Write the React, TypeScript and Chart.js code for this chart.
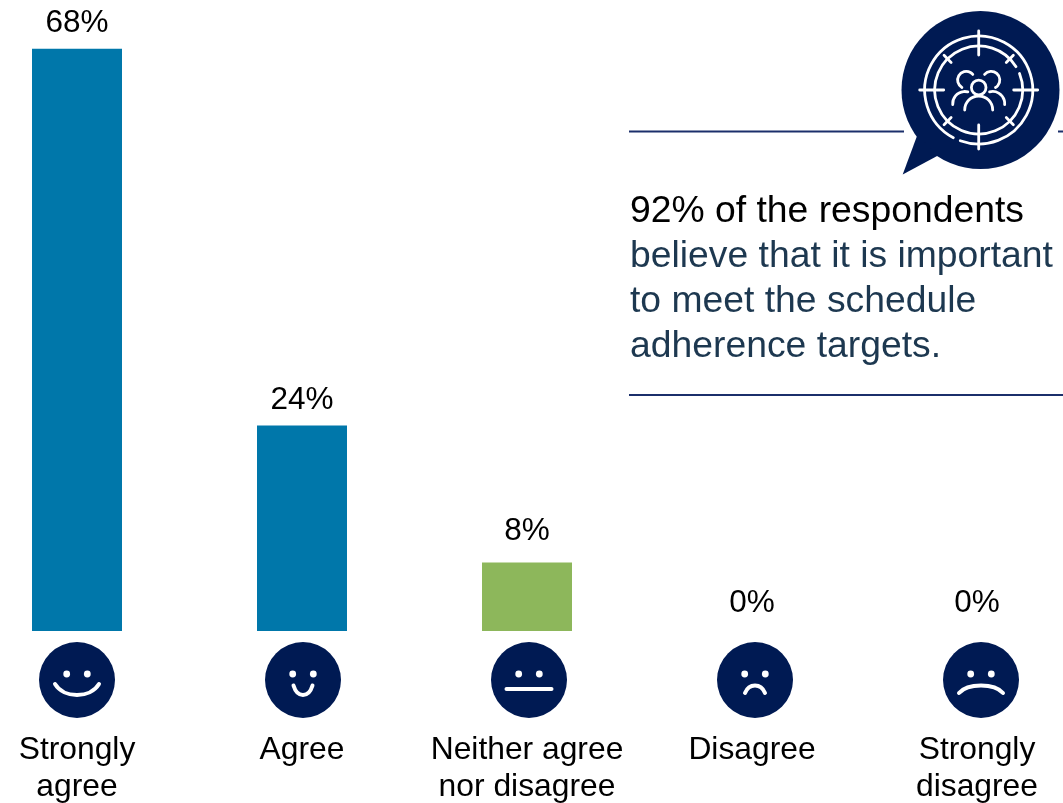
import React, { useEffect, useRef } from "react";
import { Chart, registerables } from "chart.js";

Chart.register(...registerables);

// Survey responses
const categories: string[][] = [
  ["Strongly", "agree"],
  ["Agree"],
  ["Neither agree", "nor disagree"],
  ["Disagree"],
  ["Strongly", "disagree"],
];
const shares = [68, 24, 8, 0, 0];
const barColors = ["#0077AA", "#0077AA", "#8DB75B", "#0077AA", "#0077AA"];
const labelLift = [25, 25.6, 31, 28, 28];
const calloutLines = [
  "92% of the respondents",
  "believe that it is important",
  "to meet the schedule",
  "adherence targets.",
];

const NAVY = "#001A53";
const FONT = '"Liberation Sans", Arial, sans-serif';
// Mouth shapes per face: half-width, y of the corners, y of the curve's extreme
const mouths = [
  [22, 684, 695],
  [9.5, 685.5, 695],
  [22.5, 689, 689],
  [10, 693, 685.5],
  [22, 693, 685.5],
];

function drawFace(c: CanvasRenderingContext2D, x: number, i: number) {
  const cy = 680;
  c.fillStyle = NAVY;
  c.beginPath();
  c.arc(x, cy, 38, 0, Math.PI * 2);
  c.fill();
  c.fillStyle = "#fff";
  for (const dx of [-10.3, 10.3]) {
    c.beginPath();
    c.arc(x + dx, cy - 6, 3.4, 0, Math.PI * 2);
    c.fill();
  }
  const [hw, yEnd, yMid] = mouths[i];
  // Control points placed so the curve reaches yMid at its centre
  const ctrlY = yEnd + ((yMid - yEnd) * 4) / 3;
  c.strokeStyle = "#fff";
  c.lineWidth = 4;
  c.lineCap = "round";
  c.beginPath();
  c.moveTo(x - hw, yEnd);
  c.bezierCurveTo(x - hw * 0.6, ctrlY, x + hw * 0.6, ctrlY, x + hw, yEnd);
  c.stroke();
}

function drawBadge(c: CanvasRenderingContext2D) {
  // Speech bubble
  c.fillStyle = NAVY;
  c.beginPath();
  c.arc(980.5, 90, 79, 0, Math.PI * 2);
  c.fill();
  c.beginPath();
  c.moveTo(917, 136);
  c.lineTo(902.7, 174.5);
  c.lineTo(939, 155);
  c.closePath();
  c.fill();

  const cx = 978.7;
  const cy = 90;
  const rad = (d: number) => (d * Math.PI) / 180;
  c.strokeStyle = "#fff";
  c.lineWidth = 2.8;
  c.lineCap = "round";

  // Reticle rings, each with one small opening
  c.beginPath();
  c.arc(cx, cy, 54, rad(118), rad(110 + 360));
  c.stroke();
  c.beginPath();
  c.arc(cx, cy, 44, rad(-22), rad(-32 + 360));
  c.stroke();

  // Cross hairs and diagonal ticks
  const tick = (deg: number, r0: number, r1: number) => {
    const a = rad(deg);
    c.beginPath();
    c.moveTo(cx + Math.cos(a) * r0, cy + Math.sin(a) * r0);
    c.lineTo(cx + Math.cos(a) * r1, cy + Math.sin(a) * r1);
    c.stroke();
  };
  for (const d of [0, 90, 180, 270]) tick(d, 35, 59);
  for (const d of [45, 135, 225, 315]) tick(d, 39, 49);

  // Group of three people
  const arc = (x: number, y: number, r: number, a0: number, a1: number) => {
    c.beginPath();
    c.arc(x, y, r, rad(a0), rad(a1));
    c.stroke();
  };
  arc(cx, 87.5, 7.3, 0, 360);
  arc(cx, 110, 14, 180, 360);
  arc(cx - 12.5, 80, 8.6, 120, 320);
  arc(cx + 12.5, 80, 8.6, 220, 60);
  arc(cx - 14, 103.5, 12, 175, 285);
  arc(cx + 14, 103.5, 12, 255, 5);
}

export default function App() {
  const ref = useRef<HTMLCanvasElement>(null);

  useEffect(() => {
    if (!ref.current) return;

    const overlay = {
      id: "overlay",
      afterDatasetsDraw(chart: Chart) {
        const c = chart.ctx;
        const bars = chart.getDatasetMeta(0).data;
        c.save();

        // Value labels above the bars
        c.font = `31.5px ${FONT}`;
        c.fillStyle = "#000";
        c.textAlign = "center";
        c.textBaseline = "middle";
        bars.forEach((b: any, i: number) => {
          c.fillText(`${shares[i]}%`, b.x, b.y - labelLift[i]);
        });

        // A face under each bar, drifting slightly right of the bar centre
        bars.forEach((b: any, i: number) => drawFace(c, b.x + i, i));

        // Callout rules
        c.strokeStyle = "#1B2F6B";
        c.lineWidth = 2;
        c.lineCap = "butt";
        for (const [x0, x1, y] of [
          [629, 904, 131.5],
          [1058, 1063, 131.5],
          [629, 1063, 395],
        ]) {
          c.beginPath();
          c.moveTo(x0, y);
          c.lineTo(x1, y);
          c.stroke();
        }
        drawBadge(c);

        // Callout text
        c.font = `37.3px ${FONT}`;
        c.textAlign = "left";
        c.textBaseline = "middle";
        calloutLines.forEach((t, i) => {
          c.fillStyle = i === 0 ? "#000" : "#1D3850";
          c.fillText(t, 630, 212 + i * 44.8);
        });
        c.restore();
      },
    };

    const chart = new Chart(ref.current, {
      type: "bar",
      data: {
        labels: categories,
        datasets: [
          {
            data: shares,
            backgroundColor: barColors,
            categoryPercentage: 0.4,
            barPercentage: 1,
            clip: false,
          } as any,
        ],
      },
      options: {
        responsive: false,
        animation: false,
        layout: { padding: { left: 77, right: 86, top: 0, bottom: 0 } },
        plugins: { legend: { display: false }, tooltip: { enabled: false } },
        scales: {
          x: {
            offset: false,
            grid: { display: false },
            border: { display: false },
            afterFit(scale: any) {
              scale.height = 172;
              scale.paddingLeft = 0;
              scale.paddingRight = 0;
            },
            ticks: {
              autoSkip: false,
              maxRotation: 0,
              padding: 93,
              color: "#000",
              font: { family: FONT, size: 31.8, lineHeight: 37 / 31.8 },
            },
          },
          y: { display: false, min: 0, max: 73.7 },
        },
      },
      plugins: [overlay],
    });
    return () => chart.destroy();
  }, []);

  return (
    <div style={{ position: "fixed", left: 0, top: 0, width: 1063, height: 803, background: "#fff" }}>
      <canvas ref={ref} width={1063} height={803} style={{ display: "block" }} />
    </div>
  );
}
